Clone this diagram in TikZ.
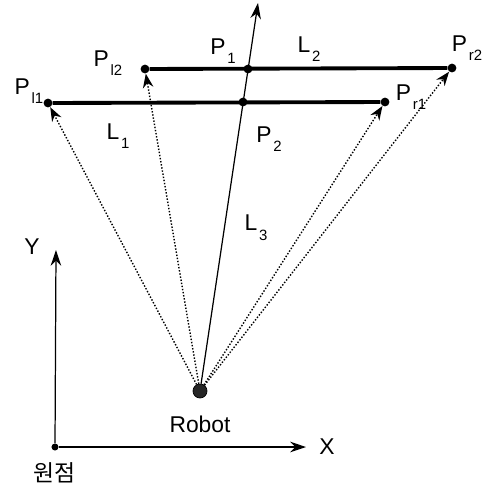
\documentclass[tikz,border=0pt]{standalone}
\usepackage{fontspec}
\setmainfont{Liberation Sans}
\newfontfamily\krfont{Noto Sans CJK KR}
\usetikzlibrary{arrows.meta}
\newcommand\subl[1]{\kern1pt\raisebox{-0.8ex}{\fontsize{8.5}{8.5}\selectfont #1}}
\tikzset{
  pdot/.style  = {circle, fill=black, minimum size=5pt, inner sep=0},
  odot/.style  = {circle, fill=black, minimum size=4pt, inner sep=0},
  robo/.style  = {circle, draw=black, fill=black!85, minimum size=0.28cm, inner sep=0},
  beam/.style  = {densely dotted, line width=0.8pt, -{Stealth[length=8pt,width=6pt]}},
  seg/.style   = {line width=2.2pt},
  axe/.style   = {line width=0.7pt, -{Stealth[length=9pt,width=6pt]}},
  lbl/.style   = {font=\fontsize{13}{15}\selectfont, inner sep=0}
}

\begin{document}
\begin{tikzpicture}[x=0.02cm, y=-0.02cm]
  \useasboundingbox (0,0) rectangle (489,491);

  % ---- punti ----
  \node[robo] (robot) at (200,391) {};
  \node[pdot] (pl1) at (48,103) {};
  \node[pdot] (pl2) at (145,69) {};
  \node[pdot] (pr1) at (385,102) {};
  \node[pdot] (pr2) at (452,68) {};
  \node[pdot] (p1)  at (248,69) {};
  \node[pdot] (p2)  at (243,102) {};
  \coordinate (tip) at (258,3);

  % ---- segmenti ----
  \draw[seg] (pl1) -- (pr1);
  \draw[seg] (pl2) -- (pr2);
  \draw[axe] (robot) -- (tip);

  % ---- raggi ----
  \draw[beam] (robot) -- (pl1);
  \draw[beam] (robot) -- (pl2);
  \draw[beam] (robot) -- (pr1);
  \draw[beam] (robot) -- (pr2);

  % ---- assi ----
  \node[odot] (orig) at (55,447) {};
  \coordinate (ytip) at (56,250);
  \coordinate (xtip) at (306,447);
  \draw[axe] (orig) -- (ytip);
  \draw[axe] (orig) -- (xtip);

  % ---- etichette ----
  \node[lbl] at (29,91)   {P\subl{l1}};
  \node[lbl] at (108,63)  {P\subl{l2}};
  \node[lbl] at (223,51)  {P\subl{1}};
  \node[lbl] at (309,49)  {L\subl{2}};
  \node[lbl] at (467,48)  {P\subl{r2}};
  \node[lbl] at (411,97)  {P\subl{r1}};
  \node[lbl] at (118,136) {L\subl{1}};
  \node[lbl] at (269,139) {P\subl{2}};
  \node[lbl] at (256,228) {L\subl{3}};
  \node[lbl] at (32,247)  {Y};
  \node[lbl] at (327,447) {X};
  \node[lbl] at (200,424) {Robot};
  \node[lbl] at (55,473)  {\krfont 원점};

\end{tikzpicture}
\end{document}
